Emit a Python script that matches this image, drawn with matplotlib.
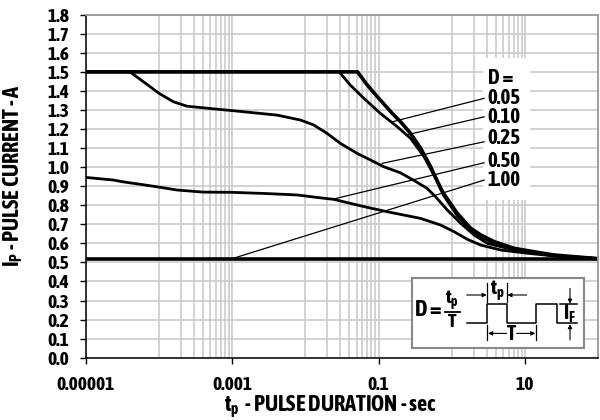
"""
Pulse current vs pulse duration for several duty cycles D.
Saves out.png.
"""

import numpy as np
import matplotlib
matplotlib.use("Agg")
import matplotlib.pyplot as plt
from matplotlib.patches import Rectangle
from matplotlib.ticker import NullFormatter

FONT = ["Asap Condensed", "Liberation Sans Narrow", "DejaVu Sans"]
plt.rcParams["font.family"] = FONT
plt.rcParams["font.weight"] = "bold"

# pulse duration (s) and pulse current (A)
x05 = [1e-5, 0.0515, 0.07, 0.096, 0.154, 0.2, 0.274, 0.376, 0.515, 0.706, 0.78,
       1.19, 1.82, 2.5, 3.8, 7.1, 13.3, 25, 47, 100]
y05 = [1.5, 1.5, 1.431, 1.37, 1.282, 1.238, 1.177, 1.099, 1.002, 0.89, 0.86,
       0.758, 0.679, 0.644, 0.609, 0.574, 0.556, 0.539, 0.53, 0.52]

x10 = [1e-5, 0.029, 0.041, 0.063, 0.106, 0.18, 0.274, 0.418, 0.57, 0.78, 1.19,
       1.82, 2.5, 3.8, 7.1, 13.3, 25, 47, 100]
y10 = [1.5, 1.5, 1.431, 1.361, 1.282, 1.212, 1.151, 1.055, 0.959, 0.85, 0.745,
       0.67, 0.635, 0.6, 0.568, 0.55, 0.535, 0.527, 0.52]

x25 = [1e-5, 4e-5, 6.1e-5, 1e-4, 1.57e-4, 2.4e-4, 5.5e-4, 1.04e-3, 4.1e-3, 8.6e-3,
       0.013, 0.0198, 0.03, 0.051, 0.078, 0.118, 0.2, 0.305, 0.46, 0.6, 0.87,
       1.33, 2.02, 3.08, 5.8, 10.9, 20.4, 38, 100]
y25 = [1.5, 1.5, 1.448, 1.387, 1.343, 1.32, 1.306, 1.296, 1.273, 1.247,
       1.221, 1.177, 1.125, 1.072, 1.037, 1.002, 0.97, 0.93, 0.889, 0.845, 0.775,
       0.705, 0.644, 0.6, 0.574, 0.556, 0.539, 0.53, 0.52]

x50 = [1e-5, 2.4e-5, 3.2e-5, 5.5e-5, 9.3e-5, 1.75e-4, 4e-4, 9.4e-4, 2.7e-3, 7.7e-3,
       0.016, 0.0244, 0.041, 0.07, 0.131, 0.2, 0.376, 0.706, 1.08, 1.64, 2.5,
       4.7, 10.9, 25, 58, 100]
y50 = [0.946, 0.932, 0.923, 0.91, 0.897, 0.88, 0.869, 0.868, 0.862, 0.854,
       0.839, 0.831, 0.81, 0.789, 0.766, 0.752, 0.731, 0.696, 0.661, 0.621, 0.591,
       0.565, 0.548, 0.534, 0.527, 0.52]

x100 = [1e-5, 100]
y100 = [0.52, 0.52]

# duty cycle labels and where their leader lines touch the curves
d_labels = ["0.05", "0.10", "0.25", "0.50", "1.00"]
label_y = [1.361, 1.264, 1.154, 1.034, 0.932]
leader_start_y = [1.361, 1.264, 1.133, 1.023, 0.932]
leader_end_x = [0.154, 0.234, 0.112, 0.0232, 0.001]
leader_end_y = [1.238, 1.168, 1.02, 0.831, 0.52]

xtick_pos = [1e-5, 1e-3, 0.1, 10]
xtick_lab = ["0.00001", "0.001", "0.1", "10"]
ytick_pos = np.round(np.arange(0, 1.81, 0.1), 1)

fig = plt.figure(figsize=(6, 4.2), dpi=100)
ax = fig.add_axes([86 / 600, 1 - 357.7 / 420, 512 / 600, 343 / 420])

ax.set_xscale("log")
ax.set_xlim(1e-5, 100)
ax.set_ylim(0, 1.8)

# grid: every decade, plus 2..9 in alternate decades
minor = [1e-4, 1e-2, 1]
for dec in [1e-4, 1e-2, 1]:
    minor += [k * dec for k in range(2, 10)]
ax.set_xticks(xtick_pos)
ax.set_xticklabels(xtick_lab)
ax.set_xticks(sorted(minor), minor=True)
ax.xaxis.set_minor_formatter(NullFormatter())
ax.set_yticks(ytick_pos)
ax.set_yticklabels([f"{v:.1f}" for v in ytick_pos])

ax.grid(True, which="both", color="#cccccc", lw=1.2)
ax.tick_params(axis="x", which="minor", length=0)
ax.tick_params(axis="both", which="major", length=4, width=1, color="k",
               labelsize=14)
ax.tick_params(axis="y", pad=8)
ax.tick_params(axis="x", pad=9)

for s in ["top", "right"]:
    ax.spines[s].set_color("#999999")
    ax.spines[s].set_linewidth(1.3)
for s in ["left", "bottom"]:
    ax.spines[s].set_color("k")
    ax.spines[s].set_linewidth(1.1)

ax.plot(x100, y100, color="k", lw=2.6, solid_capstyle="butt")
ax.plot(x50, y50, color="k", lw=2.0)
ax.plot(x25, y25, color="k", lw=2.0)
ax.plot(x10, y10, color="k", lw=2.0)
ax.plot(x05, y05, color="k", lw=2.6)

# white panel behind the labels
ax.add_patch(Rectangle((0.775, 0.46), 0.092, 0.414, transform=ax.transAxes,
                       facecolor="white", edgecolor="none", zorder=1.8))
ax.text(3.1, 1.467, "D =", fontsize=15, fontweight="bold", va="center",
        ha="left", zorder=3)
for lab, ly, sy, ex, ey in zip(d_labels, label_y, leader_start_y,
                               leader_end_x, leader_end_y):
    ax.text(3.1, ly, lab, fontsize=15, fontweight="bold", va="center",
            ha="left", zorder=3)
    ax.plot([2.77, ex], [sy, ey], color="k", lw=0.9, zorder=2.5)

ax.set_ylabel(r"$\mathregular{I_P}$ - PULSE CURRENT - A", fontsize=16,
              fontweight="bold")
ax.yaxis.set_label_coords(-0.119, 0.53)
ax.set_xlabel(r"$\mathregular{t_p}$  - PULSE DURATION - sec", fontsize=16,
              fontweight="bold")
ax.xaxis.set_label_coords(0.477, -0.105)

# inset with duty cycle definition
ins = fig.add_axes([411.7 / 600, 1 - 348.3 / 420, 172.6 / 600, 70.6 / 420])
ins.set_xlim(0, 172.6)
ins.set_ylim(70.6, 0)
ins.set_xticks([])
ins.set_yticks([])
for s in ins.spines.values():
    s.set_color("#888888")
    s.set_linewidth(1.5)

wave_u = [55, 75.7, 75.7, 95, 95, 124.3, 124.3, 145, 145, 165.7]
wave_v = [45.7, 45.7, 26.7, 26.7, 45.7, 45.7, 26.7, 26.7, 45.7, 45.7]
ins.plot(wave_u, wave_v, color="k", lw=1.1)
ins.plot([148, 165.7], [26.7, 26.7], color="k", lw=1.1)

ins.text(3, 32.5, "D", fontsize=16, fontweight="bold", ha="left",
         va="center")
ins.text(29.5, 32.5, "=", fontsize=16, fontweight="bold", ha="right",
         va="center")
ins.text(40.5, 22.5, r"$\mathregular{t_p}$", fontsize=14, fontweight="bold",
         ha="center", va="center")
ins.plot([33, 48.3], [34.7, 34.7], color="k", lw=1.3)
ins.text(40.5, 44.5, "T", fontsize=14, fontweight="bold", ha="center",
         va="center")

# t_p dimension
ins.plot([75.7, 75.7], [5.7, 24], color="k", lw=0.9)
ins.plot([95, 95], [5.7, 24], color="k", lw=0.9)
ins.text(85.3, 13, r"$\mathregular{t_p}$", fontsize=15, fontweight="bold",
         ha="center", va="center")
arrow = dict(arrowstyle="-|>", lw=0.8, color="k", mutation_scale=6,
             shrinkA=0, shrinkB=0)
ins.annotate("", xy=(75, 17.3), xytext=(55, 17.3), arrowprops=arrow)
ins.annotate("", xy=(95.7, 17.3), xytext=(115, 17.3), arrowprops=arrow)

# T dimension
ins.plot([75.7, 75.7], [47.3, 62.3], color="k", lw=0.9)
ins.plot([124.3, 124.3], [47.3, 62.3], color="k", lw=0.9)
ins.text(100, 56, "T", fontsize=15, fontweight="bold", ha="center",
         va="center")
ins.annotate("", xy=(76.4, 55.7), xytext=(95, 55.7), arrowprops=arrow)
ins.annotate("", xy=(123.6, 55.7), xytext=(105, 55.7), arrowprops=arrow)

# I_F dimension
ins.annotate("", xy=(158.3, 26), xytext=(158.3, 10.7), arrowprops=arrow)
ins.annotate("", xy=(158.3, 46.4), xytext=(158.3, 62.3), arrowprops=arrow)
ins.text(158.3, 36, r"$\mathregular{I_F}$", fontsize=15, fontweight="bold",
         ha="center", va="center")

fig.savefig("out.png", dpi=100)
